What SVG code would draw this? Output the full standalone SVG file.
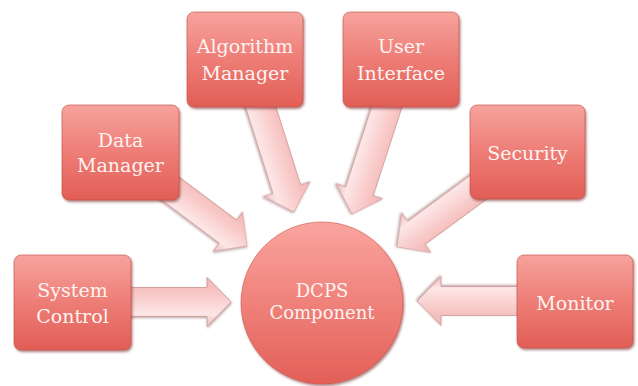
<svg xmlns="http://www.w3.org/2000/svg" width="638" height="386" viewBox="0 0 638 386">
  <defs>
    <linearGradient id="boxFill" x1="0" y1="0" x2="0" y2="1">
      <stop offset="0" stop-color="#f7a39d"/>
      <stop offset="0.5" stop-color="#ed7d76"/>
      <stop offset="1" stop-color="#e25e56"/>
    </linearGradient>
    <linearGradient id="circleFill" x1="0" y1="0" x2="0" y2="1">
      <stop offset="0" stop-color="#faa49e"/>
      <stop offset="0.55" stop-color="#ee7e77"/>
      <stop offset="1" stop-color="#e35f57"/>
    </linearGradient>
    <linearGradient id="arrowFill" x1="0" y1="0" x2="0" y2="1">
      <stop offset="0" stop-color="#f2b4b3"/>
      <stop offset="0.35" stop-color="#f8c9c8"/>
      <stop offset="0.75" stop-color="#fde6e6"/>
      <stop offset="1" stop-color="#efbcbb"/>
    </linearGradient>
    <filter id="shadow" x="-20%" y="-20%" width="140%" height="140%">
      <feDropShadow dx="1.2" dy="1.8" stdDeviation="1" flood-color="#6e2420" flood-opacity="0.55"/>
    </filter>
    <filter id="arrowShadow" x="-20%" y="-30%" width="140%" height="160%">
      <feDropShadow dx="0.8" dy="1.2" stdDeviation="0.8" flood-color="#6e3a38" flood-opacity="0.45"/>
    </filter>
    <!-- block arrow with its tip at the origin, pointing along +x -->
    <path id="arrow" d="M-130,-14.5 H-24 V-24.5 L0,0 L-24,24.5 V14.5 H-130 Z"/>
  </defs>
  <style>
    .arr { fill: url(#arrowFill); stroke: #c99594; stroke-width: 0.8; filter: url(#arrowShadow); }
    .box { fill: url(#boxFill); stroke: #c04e48; stroke-width: 0.6; filter: url(#shadow); }
    .hub { fill: url(#circleFill); stroke: #cc5249; stroke-width: 0.6; filter: url(#shadow); }
    .lbl { font-family: "DejaVu Serif", "Liberation Serif", serif; font-size: 19px; fill: #fff3f1; text-anchor: middle; }
    .hubLbl { font-family: "DejaVu Serif", "Liberation Serif", serif; font-size: 18px; fill: #fff3f1; text-anchor: middle; }
  </style>

  <rect width="638" height="386" fill="#ffffff"/>

  <!-- connectors -->
  <g id="connectors">
    <use href="#arrow" class="arr" transform="translate(231,302)"/>
    <use href="#arrow" class="arr" transform="translate(417,301) rotate(180)"/>
    <use href="#arrow" class="arr" transform="translate(294,212) rotate(72.4)"/>
    <use href="#arrow" class="arr" transform="translate(352,214) rotate(108)"/>
    <use href="#arrow" class="arr" transform="translate(247,246) rotate(36.8)"/>
    <use href="#arrow" class="arr" transform="translate(397,247) rotate(143.7)"/>
  </g>

  <g id="system-control">
    <rect class="box" x="14" y="255" width="117" height="95" rx="7"/>
    <text class="lbl" x="72.5" y="297">System</text>
    <text class="lbl" x="72.5" y="323">Control</text>
  </g>

  <g id="data-manager">
    <rect class="box" x="62" y="105" width="117" height="95" rx="7"/>
    <text class="lbl" x="120.5" y="147">Data</text>
    <text class="lbl" x="120.5" y="172">Manager</text>
  </g>

  <g id="algorithm-manager">
    <rect class="box" x="187" y="12" width="116" height="95" rx="7"/>
    <text class="lbl" x="245" y="53">Algorithm</text>
    <text class="lbl" x="245" y="80">Manager</text>
  </g>

  <g id="user-interface">
    <rect class="box" x="343" y="12" width="116" height="95" rx="7"/>
    <text class="lbl" x="401" y="53">User</text>
    <text class="lbl" x="401" y="80">Interface</text>
  </g>

  <g id="security">
    <rect class="box" x="470" y="105" width="115" height="94" rx="7"/>
    <text class="lbl" x="527.5" y="160">Security</text>
  </g>

  <g id="monitor">
    <rect class="box" x="517" y="255" width="116" height="93" rx="7"/>
    <text class="lbl" x="575" y="310">Monitor</text>
  </g>

  <g id="dcps-component">
    <circle class="hub" cx="322" cy="303" r="81"/>
    <text class="hubLbl" x="322" y="297">DCPS</text>
    <text class="hubLbl" x="322" y="319">Component</text>
  </g>
</svg>
